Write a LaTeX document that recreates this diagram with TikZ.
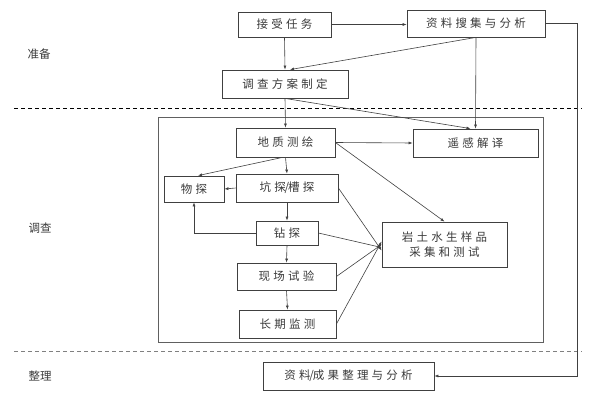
\documentclass[tikz,border=0pt]{standalone}
\usepackage{fontspec}
\newfontfamily\cjk[LetterSpace=28]{Noto Sans CJK SC}
\newfontfamily\cjklab{Noto Sans CJK SC}
\usetikzlibrary{arrows.meta}
\definecolor{boxcol}{HTML}{404040}
\definecolor{txtcol}{HTML}{3A3A3A}
\definecolor{framecol}{HTML}{606060}
\newcommand{\slsh}{\kern-1.2pt/\kern-1pt}
\tikzset{
  box/.style={draw=boxcol, line width=0.8pt, inner sep=0pt, text=txtcol,
    font=\cjk\fontsize{11.5}{14}\selectfont, align=center},
  lab/.style={text=txtcol, font=\cjklab\fontsize{11.5}{14}\selectfont, inner sep=0pt},
  arr/.style={draw=boxcol, line width=0.6pt, -{Latex[length=4pt,width=3pt]}},
  sep/.style={line width=0.7pt, dash pattern=on 4pt off 3pt}
}
\begin{document}
\begin{tikzpicture}[x=1pt,y=-1pt]
\useasboundingbox (0,0) rectangle (596,409);
% separators
\draw[sep, black] (14,108) -- (582,108);
\draw[sep, gray] (14,351) -- (582,351);
% stage labels
\node[lab] (l1) at (39,54) {准备};
\node[lab] (l2) at (40,228) {调查};
\node[lab] (l3) at (40,376) {整理};
% investigation frame
\draw[framecol, line width=0.8pt] (158,117) rectangle (543,342);
% boxes
\node[box, minimum width=93pt, minimum height=25pt] (js) at (284.5,24.5) {接受任务};
\node[box, minimum width=138pt, minimum height=27pt] (zl) at (476,23.5) {资料搜集与分析};
\node[box, minimum width=126pt, minimum height=28pt] (fa) at (285,84) {调查方案制定};
\node[box, minimum width=99pt, minimum height=29pt] (dz) at (285.5,142.5) {地质测绘};
\node[box, minimum width=125pt, minimum height=28pt] (yg) at (475.5,143) {遥感解译};
\node[box, minimum width=60pt, minimum height=26pt] (wt) at (194,189) {物探};
\node[box, minimum width=102pt, minimum height=28pt] (kt) at (287,188) {坑探\slsh 槽探};
\node[box, minimum width=62pt, minimum height=24pt] (zt) at (287,233) {钻探};
\node[box, minimum width=99pt, minimum height=27pt] (xc) at (286.5,276.5) {现场试验};
\node[box, minimum width=97pt, minimum height=28pt] (cq) at (287.5,324) {长期监测};
\node[box, minimum width=125pt, minimum height=45pt, font=\cjk\fontsize{11.5}{15}\selectfont] (yt) at (444.5,244.5) {岩土水生样品\\采集和测试};
\node[box, minimum width=171pt, minimum height=28pt] (cg) at (348.5,376) {资料\slsh 成果整理与分析};
% connectors
\draw[arr] (js.east) -- (zl.west |- js.east);
\draw[arr] (js.south) -- (fa.north);
\draw[arr] (zl.south) -- ([xshift=5pt]fa.north);
\draw[arr] (zl.south) -- (yg.north);
\draw[arr] (fa.south) -- ([xshift=-5pt]yg.north);
\draw[arr] (fa.south) -- (dz.north);
\draw[arr] (zl.east) -- ++(32,0) |- (cg.east);
\draw[arr] (dz.east) -- (yg.west);
\draw[arr] (dz.east) -- (yt.north);
\draw[arr] ([xshift=-3pt]dz.south) -- ([xshift=4pt]wt.north);
\draw[arr] (dz.south) -- (kt.north);
\draw[arr] (kt.west) -- (wt.east);
\draw[arr] (kt.south) -- (zt.north);
\draw[arr] (kt.east) -- ([yshift=-6pt]yt.west);
\draw[arr] (zt.west) -| (wt.south);
\draw[arr] (zt.east) -- ([yshift=-3pt]yt.west);
\draw[arr] (zt.south) -- (xc.north);
\draw[arr] (xc.east) -- (yt.west);
\draw[arr] (xc.south) -- (cq.north);
\draw[arr] (cq.east) -- ([yshift=3pt]yt.west);
\end{tikzpicture}
\end{document}
